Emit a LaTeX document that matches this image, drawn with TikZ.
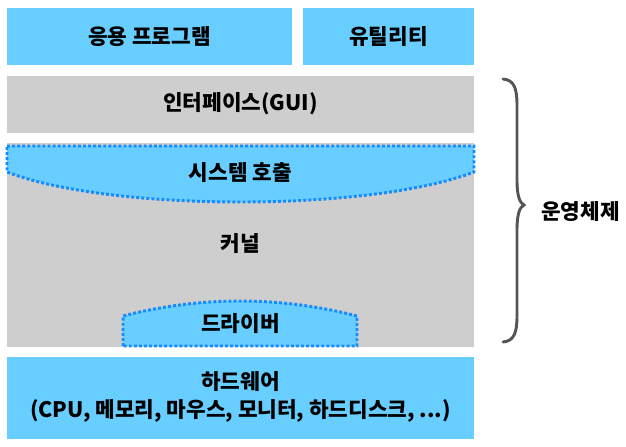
\documentclass[tikz,border=0pt]{standalone}
\usepackage{fontspec}
\setmainfont{Noto Sans CJK KR}
\begin{document}
\begin{tikzpicture}[x=0.75pt,y=-0.75pt,
  bluebox/.style={fill=lblue,draw=none},
  graybox/.style={fill=lgray,draw=none},
  dotborder/.style={draw=dblue,line width=2.2pt,dash pattern=on 2.2pt off 1.6pt},
  lbl/.style={font=\fontsize{16pt}{21.5pt}\selectfont\bfseries,align=center,inner sep=0pt}]
\definecolor{lblue}{RGB}{104,205,255}
\definecolor{lgray}{RGB}{206,206,206}
\definecolor{dblue}{RGB}{18,140,255}
\definecolor{brace}{RGB}{85,85,85}
\useasboundingbox (0,0) rectangle (626,447);
% boxes
\fill[bluebox] (7,8) rectangle (292,65);
\fill[bluebox] (303,8) rectangle (474,65);
\fill[graybox] (7,76) rectangle (474,133);
\fill[graybox] (7,143) rectangle (474,347);
\fill[bluebox] (7,357) rectangle (474,439);
% system call shape
\path[fill=lblue,dotborder] (7,146) -- (474,146) -- (474,172) .. controls (370,212) and (110,212) .. (7,172) -- cycle;
% driver shape
\path[fill=lblue,dotborder] (123,346) -- (123,316) .. controls (200,296) and (280,296) .. (357,316) -- (357,346) -- cycle;
% labels
\node[lbl] (app) at (149.5,37) {응용 프로그램};
\node[lbl] (util) at (388.5,37) {유틸리티};
\node[lbl] (gui) at (240.5,104) {인터페이스(GUI)};
\node[lbl] (sys) at (240.5,173) {시스템 호출};
\node[lbl] (ker) at (240.5,244) {커널};
\node[lbl] (drv) at (240.5,324) {드라이버};
\node[lbl] (hw) at (240.5,397) {하드웨어\\(CPU, 메모리, 마우스, 모니터, 하드디스크, ...)};
% brace
\coordinate (btop) at (503,79);
\coordinate (btip) at (524,205);
\coordinate (bbot) at (503,342);
\draw[brace,line width=2.2pt,line cap=round] (btop) .. controls (514,80) and (517,88) .. (517,105)
  -- (517,180) .. controls (517,197) and (520,203) .. (btip)
  .. controls (520,207) and (517,213) .. (517,230)
  -- (517,316) .. controls (517,333) and (514,341) .. (bbot);
\node[lbl,anchor=west] (os) at (541,212) {운영체제};
\end{tikzpicture}
\end{document}
